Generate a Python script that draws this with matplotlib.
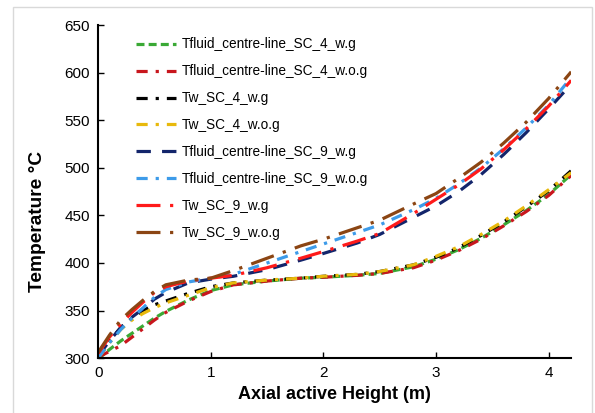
import matplotlib
matplotlib.use("Agg")
import matplotlib.pyplot as plt
from matplotlib.patches import Rectangle

plt.rcParams['font.family'] = ['Liberation Sans', 'DejaVu Sans']

# axial height (m)
x = [0.0, 0.1, 0.2, 0.3, 0.4, 0.5, 0.6, 0.8, 1.0, 1.2, 1.5, 1.8, 2.0, 2.3, 2.5,
     2.8, 3.0, 3.2, 3.4, 3.6, 3.8, 4.0, 4.2]

tf_sc4_wg = [299, 309, 318, 326, 334, 342, 349, 361, 371, 377, 381, 384, 385, 387, 389,
             396, 404, 414, 426, 440, 455, 472, 493]
tf_sc4_wog = [301, 307, 313, 322, 331, 340, 348, 360, 370, 377, 381, 384, 385, 387, 389,
              395, 403, 413, 425, 439, 454, 471, 492]
tw_sc4_wg = [300, 318, 332, 342, 350, 356, 360, 368, 375, 379, 382, 384, 386, 388, 391,
             398, 406, 416, 429, 443, 459, 476, 497]
tw_sc4_wog = [300, 316, 330, 340, 347, 353, 358, 366, 374, 379, 382, 384, 386, 388, 391,
              398, 407, 417, 430, 444, 460, 477, 495]
tf_sc9_wg = [302, 318, 332, 343, 352, 362, 369, 379, 383, 386, 393, 403, 410, 421, 430,
             448, 460, 475, 493, 514, 537, 562, 588]
tf_sc9_wog = [300, 316, 330, 342, 353, 364, 372, 380, 384, 388, 400, 412, 420, 432, 440,
              456, 468, 483, 500, 520, 542, 566, 595]
tw_sc9_wg = [305, 322, 336, 348, 359, 369, 375, 381, 384, 387, 395, 405, 412, 423, 431,
             452, 467, 482, 499, 519, 541, 565, 592]
tw_sc9_wog = [306, 324, 340, 351, 361, 370, 377, 382, 384, 392, 405, 418, 425, 437, 445,
              462, 473, 489, 506, 526, 548, 573, 601]

labels = ['Tfluid_centre-line_SC_4_w.g', 'Tfluid_centre-line_SC_4_w.o.g',
          'Tw_SC_4_w.g', 'Tw_SC_4_w.o.g',
          'Tfluid_centre-line_SC_9_w.g', 'Tfluid_centre-line_SC_9_w.o.g',
          'Tw_SC_9_w.g', 'Tw_SC_9_w.o.g']
series = [tf_sc4_wg, tf_sc4_wog, tw_sc4_wg, tw_sc4_wog,
          tf_sc9_wg, tf_sc9_wog, tw_sc9_wg, tw_sc9_wog]

colors = ['#3aa935', '#c8161d', '#000000', '#e8b90c',
          '#13256b', '#3d9be9', '#ff1a1a', '#8b4513']
dashes = [(2.5, 1.3), (3.5, 2.5, 1, 2.5), (3.5, 2.5, 1, 2.5), (3.5, 2.5, 1, 2.5),
          (4.5, 3.5), (3.5, 2.5, 1, 2.5), (7.5, 3, 1, 3), (7.5, 3, 1, 3)]

fig = plt.figure(figsize=(5.95, 4.13), dpi=100)
ax = fig.add_axes([0.165, 0.133, 0.795, 0.806])

for ys, c, d, lab in zip(series, colors, dashes, labels):
    ax.plot(x, ys, color=c, lw=2.3, dashes=d, label=lab)

ax.set_xlim(0, 4.2)
ax.set_ylim(300, 650)
ax.set_xticks([0, 1, 2, 3, 4])
ax.set_yticks(range(300, 651, 50))
ax.tick_params(direction='in', length=4, width=1, labelsize=11, pad=6)
for s in ['top', 'right']:
    ax.spines[s].set_visible(False)
for s in ['left', 'bottom']:
    ax.spines[s].set_linewidth(1.5)

ax.set_xlabel('Axial active Height (m)', fontsize=13, fontweight='bold', labelpad=4)
ax.set_ylabel('Temperature °C', fontsize=13.8, fontweight='bold')
ax.yaxis.set_label_coords(-0.11, 0.41)

ax.legend(loc='upper left', bbox_to_anchor=(0.055, 1.0), frameon=False,
          fontsize=9.8, handlelength=2.9, handletextpad=0.45, labelspacing=0.95)

fig.patches.append(Rectangle((13 / 595, -0.01), 579 / 595, 1 - 7 / 413 + 0.01,
                             transform=fig.transFigure, fill=False,
                             edgecolor='#d9d9d9', lw=1))

fig.savefig('out.png', dpi=100)
